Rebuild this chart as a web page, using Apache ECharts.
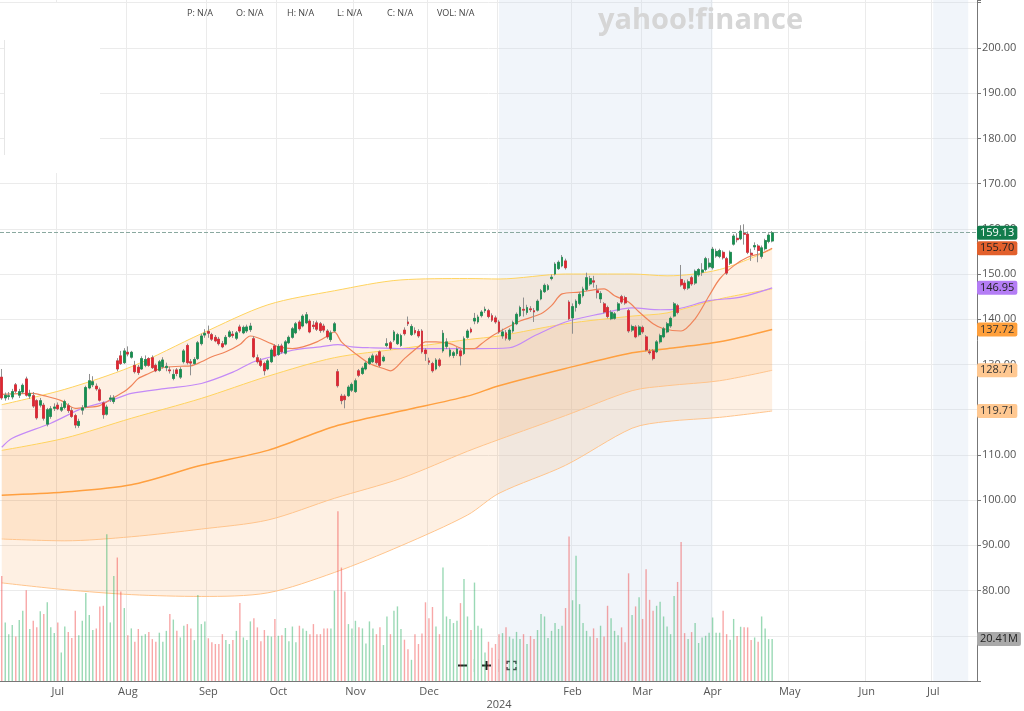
<!DOCTYPE html>
<html>
<head>
<meta charset="utf-8">
<script src="https://cdn.jsdelivr.net/npm/echarts@6.0.0/dist/echarts.min.js"></script>
<style>
  html, body { margin: 0; padding: 0; background: #fff; }
  #chart { width: 1024px; height: 711px; }
</style>
</head>
<body>
<div id="chart"></div>
<script>
// trading calendar (categories)
const firstDay = '2023-06-08';
const lastDay = '2024-07-18';
const holidays = ['2023-06-19','2023-07-04','2023-09-04','2023-11-23','2023-12-25',
  '2024-01-01','2024-01-15','2024-02-19','2024-03-29','2024-05-27','2024-06-19','2024-07-04'];
const monthNames = ['Jan','Feb','Mar','Apr','May','Jun','Jul','Aug','Sep','Oct','Nov','Dec'];

// [open, close, low, high]
const candles = [
  [127.2,122.6,122.2,129.0],[122.6,123.2,122.0,123.8],[122.9,123.1,122.2,123.9],[122.8,124.0,122.3,124.6],
  [125.5,124.1,123.7,125.9],[123.2,124.0,122.6,124.6],[123.9,125.4,123.5,125.8],[126.8,123.2,122.9,127.3],
  [123.0,123.6,122.4,124.4],[123.1,120.8,120.4,123.9],[122.0,118.2,117.8,122.3],[121.0,122.0,120.5,122.6],
  [121.0,118.1,117.6,121.5],[116.8,120.0,116.3,120.4],[118.5,120.2,118.0,120.8],[120.3,120.6,119.7,121.4],
  [121.0,120.2,119.9,121.6],[119.9,120.5,119.5,121.4],[120.5,121.8,120.1,122.2],[120.9,119.8,119.3,121.4],
  [119.8,118.5,118.2,120.5],[118.7,116.6,115.9,119.1],[116.5,117.4,116.0,118.0],[119.9,120.4,118.9,121.0],
  [120.6,124.9,120.3,125.3],[124.8,126.4,124.5,127.9],[125.5,126.2,125.0,127.4],[125.2,124.6,124.2,125.8],
  [124.4,122.1,121.8,124.9],[121.5,118.9,118.0,121.8],[119.0,120.6,118.7,121.1],[122.3,122.6,121.7,123.2],
  [121.8,122.6,121.3,123.2],[130.8,129.0,128.5,131.4],[131.9,130.2,129.9,133.0],[130.4,133.0,130.1,133.6],
  [132.7,132.3,131.8,134.0],[131.6,132.7,131.3,133.0],[129.8,128.4,128.0,130.8],[129.4,128.2,127.7,129.9],
  [129.0,131.3,128.8,131.8],[129.8,131.1,129.4,132.0],[131.3,129.8,129.5,131.6],[131.5,129.3,129.0,132.0],
  [129.8,128.6,128.3,130.2],[128.7,130.6,128.4,131.0],[129.5,131.0,129.1,131.6],[129.3,129.6,128.5,130.4],
  [128.8,128.6,128.0,129.5],[126.9,127.8,126.5,128.9],[128.8,128.0,127.4,129.2],[127.2,128.9,126.8,129.4],
  [130.6,133.0,130.2,133.4],[134.2,130.4,130.0,134.6],[130.6,130.3,127.6,131.2],[130.2,131.1,129.9,131.6],
  [131.3,134.8,131.0,135.2],[134.6,136.3,134.2,136.8],[136.5,136.9,135.9,137.8],[137.3,136.9,135.9,138.6],
  [136.6,135.6,135.2,137.0],[136.0,135.2,134.9,136.5],[135.6,134.6,134.2,136.1],[134.6,133.9,133.6,135.2],
  [134.5,136.0,134.2,136.5],[136.2,137.2,135.9,137.6],[136.7,136.4,135.9,137.4],[135.8,137.0,135.4,137.4],
  [138.3,137.4,137.0,138.8],[137.0,138.2,136.7,138.6],[137.4,138.3,137.0,138.8],[137.7,138.5,137.2,139.2],
  [135.7,131.7,131.4,136.3],[131.5,130.6,130.2,132.2],[130.8,129.8,129.4,131.4],[130.2,128.6,127.6,130.6],
  [129.0,130.8,128.7,131.2],[130.6,133.2,130.3,133.6],[134.1,131.9,131.6,134.5],[132.2,134.0,131.9,134.5],
  [134.1,132.8,132.4,134.6],[132.5,135.0,132.2,135.4],[134.8,136.0,134.5,136.4],[136.0,137.9,135.7,138.3],
  [137.0,139.0,136.7,139.4],[139.4,137.9,137.5,139.8],[138.5,140.7,138.2,141.1],[139.2,141.0,138.9,141.6],
  [139.6,137.2,136.9,140.0],[138.7,138.4,137.8,139.6],[139.2,137.8,137.4,139.7],[139.0,137.5,137.0,139.4],
  [138.5,137.6,137.1,139.0],[137.4,136.1,135.7,137.8],[135.5,137.0,135.0,137.5],[137.4,139.0,137.1,139.4],
  [128.4,125.3,124.9,129.0],[123.0,122.0,121.2,123.5],[123.0,122.2,120.3,123.4],[123.1,125.0,122.8,125.4],
  [124.3,125.6,123.9,126.0],[124.0,126.4,123.7,126.9],[128.6,127.6,127.2,129.0],[128.0,129.2,127.7,129.6],
  [129.0,130.3,128.7,130.7],[130.2,131.3,129.9,131.7],[130.6,131.9,130.3,132.4],[131.9,130.4,130.0,132.3],
  [132.8,129.8,129.4,133.1],[130.8,131.6,130.5,132.0],[134.2,134.6,133.8,135.8],[134.8,133.6,133.2,135.2],
  [135.4,137.2,135.0,137.6],[134.6,136.6,134.3,137.0],[134.2,136.4,133.9,136.8],[137.6,136.8,136.4,138.2],
  [139.4,139.0,138.5,140.6],[136.6,138.4,136.3,138.9],[137.5,137.0,136.6,138.2],[137.3,136.3,135.9,137.8],
  [137.4,132.8,132.4,137.8],[133.2,132.4,130.8,133.6],[130.8,130.5,129.9,131.5],[130.2,128.6,128.2,130.6],
  [129.0,131.0,128.7,131.4],[131.0,129.8,129.4,131.4],[133.0,136.9,132.6,137.6],[134.0,135.0,133.4,135.8],
  [132.0,133.2,131.6,133.7],[132.0,132.6,131.4,133.0],[132.4,133.4,131.9,133.8],[133.0,131.9,129.8,133.4],
  [132.4,135.7,132.1,136.2],[136.0,137.4,135.7,137.8],[137.8,137.2,136.9,138.2],[139.6,140.2,138.9,141.4],
  [139.4,140.5,139.0,141.0],[140.8,141.6,140.4,142.0],[141.9,142.2,141.4,142.8],[141.9,140.6,140.2,142.3],
  [140.8,139.8,139.4,141.3],[140.3,139.4,139.0,140.8],[139.4,137.2,136.8,139.8],[136.3,137.2,135.7,137.9],
  [137.0,135.8,135.3,137.6],[135.6,137.6,135.2,138.0],[137.4,139.3,137.0,139.7],[139.0,141.1,138.7,141.5],
  [140.8,142.6,140.5,143.0],[142.2,142.0,140.6,144.8],[141.5,142.6,141.0,143.2],[142.3,142.1,141.6,142.9],
  [141.9,141.6,139.4,142.5],[142.0,144.0,141.7,144.4],[144.5,146.3,144.2,146.7],[146.1,147.5,145.8,147.9],
  [146.6,147.4,146.3,147.8],[149.0,149.3,148.6,149.9],[150.0,152.2,149.7,152.6],[151.2,152.6,150.9,153.0],
  [151.8,153.7,151.5,154.2],[152.9,151.4,151.0,153.4],[143.8,140.1,139.8,144.2],[140.3,142.8,136.8,143.5],
  [142.6,144.0,141.7,144.4],[143.5,145.5,143.1,146.0],[145.2,146.7,144.8,147.2],[146.6,149.2,146.2,150.3],
  [147.8,149.0,147.4,149.6],[148.5,148.2,147.0,149.6],[146.3,145.9,144.6,147.6],[144.5,145.7,143.6,146.2],
  [143.4,141.6,141.3,143.8],[142.6,140.6,140.2,143.0],[140.1,141.5,139.8,142.0],[140.2,141.2,139.9,141.6],
  [142.0,143.4,141.7,143.8],[145.0,143.8,143.4,145.4],[144.8,143.6,143.2,145.2],[141.9,137.4,137.0,142.3],
  [137.6,138.4,137.2,138.8],[138.3,136.1,135.8,138.7],[136.6,138.3,136.2,138.7],[138.2,137.2,136.8,138.6],
  [136.1,133.2,132.9,136.5],[132.8,132.6,132.2,133.4],[133.0,131.3,130.9,133.4],[132.8,135.0,132.5,135.4],
  [135.0,136.4,134.6,136.8],[136.1,137.9,135.8,138.3],[137.2,139.0,136.9,139.4],[138.5,140.2,138.1,140.6],
  [140.7,143.4,140.4,143.8],[143.0,141.5,141.1,143.4],[148.8,147.6,147.2,152.0],[148.0,146.8,146.4,148.6],
  [146.9,148.3,146.5,148.8],[149.2,147.8,147.4,149.6],[148.0,150.6,147.6,151.0],[149.8,151.0,149.4,151.3],
  [150.4,150.9,149.6,152.4],[151.0,153.4,150.6,153.8],[151.6,152.4,151.2,153.5],[151.4,155.5,151.0,156.0],
  [154.0,155.0,153.6,155.6],[153.9,155.2,153.5,155.6],[154.8,153.6,153.2,155.2],[153.4,150.2,149.8,153.8],
  [152.4,154.8,152.0,155.2],[156.6,158.4,156.3,158.8],[157.9,157.6,157.0,159.0],[157.8,159.5,157.5,160.8],
  [159.0,158.8,156.5,161.0],[158.8,154.8,154.4,159.4],[154.6,154.3,152.9,155.6],[156.0,156.3,155.3,157.0],
  [156.2,155.2,152.6,156.6],[153.9,155.8,153.4,156.3],[155.6,157.4,155.2,157.8],[157.2,158.6,156.8,159.0],
  [157.3,159.13,157.0,159.5]
];

// volume in millions
const volumes = [
  51.1,28.5,22.8,27.2,21.6,29.7,34.2,44.2,25.3,29.3,26.1,33.9,32.6,38.3,26.1,23.3,28.5,13.9,26.5,23.9,
  20.9,34.2,22.3,29.3,42.8,32.1,24.8,25.6,36.3,36.6,71.4,28.5,51.1,60.1,43.6,35.5,22.3,25.6,19.1,25.3,
  22.0,22.8,23.9,20.4,19.1,23.5,19.1,24.4,32.6,29.9,24.4,21.2,26.9,27.7,25.6,19.9,41.8,27.7,29.0,20.8,
  18.8,18.0,18.0,22.8,19.9,18.0,19.9,24.4,37.9,21.2,19.9,29.0,30.5,26.1,19.3,24.8,22.0,21.6,30.2,22.0,
  22.3,25.8,19.3,26.5,18.8,26.9,25.6,24.4,22.8,27.7,22.8,22.8,25.6,25.6,25.6,43.9,82.6,55.2,43.4,27.7,
  25.6,29.3,26.1,25.6,18.3,29.0,25.6,22.8,26.1,17.5,31.4,22.8,34.2,36.3,25.3,20.1,15.5,10.3,22.8,18.0,
  23.1,38.3,30.5,36.0,26.5,22.8,55.2,31.4,30.2,28.2,29.3,37.9,49.6,31.4,24.8,47.9,26.9,25.6,13.9,19.1,
  16.2,18.0,22.8,23.3,26.1,21.6,20.6,23.9,20.4,22.8,18.0,21.9,20.4,24.8,32.6,31.4,20.9,24.4,28.2,25.3,
  26.9,35.5,70.3,39.3,60.9,37.4,28.2,24.4,21.6,25.6,20.9,26.9,21.6,36.6,30.5,24.4,22.3,26.1,18.8,52.4,
  32.1,36.3,40.7,30.2,54.4,39.5,34.2,36.6,38.6,31.4,26.5,22.8,41.4,48.2,67.7,23.3,20.4,23.8,28.2,18.5,
  21.2,22.0,23.5,30.9,23.5,23.5,34.2,22.8,20.1,30.2,21.9,26.4,26.1,26.1,19.9,21.2,19.1,31.4,25.6,20.4,
  20.41
];

// moving averages: [trading-day index, price]
const maShort = [
  [0,123.4],[9,123.6],[12,123.1],[17,122.0],[21,120.3],[24,120.5],[28,120.9],[32,122.7],[35,124.0],
  [37,125.3],[39,126.9],[42,128.0],[46,129.3],[51,129.6],[54,129.7],[57,130.6],[60,131.7],[64,132.8],
  [68,134.4],[71,136.3],[77,134.6],[79,133.9],[83,133.5],[86,133.9],[90,135.0],[93,136.3],[95,137.2],
  [97,135.0],[101,132.4],[105,130.2],[109,129.1],[111,128.6],[115,131.3],[119,133.9],[121,135.0],
  [124,135.0],[128,134.6],[132,133.5],[135,133.5],[137,134.6],[140,136.3],[142,137.2],[148,139.6],
  [154,141.2],[157,143.0],[160,145.6],[165,146.0],[169,146.5],[172,146.7],[175,145.2],[179,143.8],
  [182,141.6],[186,139.0],[189,137.9],[194,137.4],[198,140.1],[202,145.2],[205,148.9],[209,151.8],
  [213,153.7],[217,154.6],[220,155.70]
];
const maMid = [
  [0,111.7],[3,113.7],[14,117.0],[23,120.3],[31,122.0],[37,123.6],[47,124.7],[57,125.8],[66,128.3],
  [72,130.6],[77,131.7],[81,132.8],[86,133.5],[91,133.9],[96,134.4],[100,133.9],[105,133.7],[115,133.5],
  [124,133.5],[134,133.5],[145,133.7],[152,136.3],[161,139.4],[171,141.2],[180,142.5],[188,142.1],
  [193,142.3],[202,144.1],[211,144.9],[220,146.95]
];

// long average and its two envelopes, sampled at bandIdx
const bandIdx    = [0, 18, 37, 57, 76, 95, 114, 133, 142, 161, 180, 190, 205, 220];
const outerUpper = [121.1,124.5,129.5,136.8,143.2,146.3,148.7,149.0,148.9,150.0,150.0,149.6,151.0,155.5];
const innerUpper = [111.0,113.7,118.1,122.5,127.4,131.5,133.5,135.5,136.3,139.0,140.7,141.4,144.5,146.7];
const maLong     = [101.1,101.8,103.4,107.7,111.0,116.3,119.7,123.0,125.3,129.1,132.6,133.5,135.0,137.72];
const innerLower = [91.4,91.0,91.9,93.6,95.6,100.4,104.8,110.8,113.4,118.7,124.2,125.3,126.4,128.71];
const outerLower = [81.7,80.2,79.1,78.7,79.5,84.0,89.9,96.7,101.5,107.7,115.9,117.4,118.3,119.71];

// shaded periods
const shaded = [['2024-01-02','2024-04-01'],['2024-07-01','2024-07-16']];

const headerItems = ['P: N/A','O: N/A','H: N/A','L: N/A','C: N/A','VOL: N/A'];

function pad(n){ return n < 10 ? '0' + n : '' + n; }
function tradingDays(from, to){
  const out = [];
  let d = new Date(from + 'T00:00:00Z');
  const end = new Date(to + 'T00:00:00Z');
  while (d <= end) {
    const s = d.getUTCFullYear() + '-' + pad(d.getUTCMonth() + 1) + '-' + pad(d.getUTCDate());
    const wd = d.getUTCDay();
    if (wd !== 0 && wd !== 6 && holidays.indexOf(s) < 0) out.push(s);
    d = new Date(d.getTime() + 86400000);
  }
  return out;
}

const dates = tradingDays(firstDay, lastDay);
const monthStart = new Set();
dates.forEach((s, i) => {
  if (i > 0 && s.slice(5, 7) !== dates[i - 1].slice(5, 7)) monthStart.add(i);
});

const GREEN = '#14904f', RED = '#e3242f', WICK = '#8f8f8f';
const FONT = 'Open Sans';

function pairs(vals){ return bandIdx.map((x, k) => [x, vals[k]]); }
function diff(a, b){ return bandIdx.map((x, k) => [x, +(a[k] - b[k]).toFixed(2)]); }
function last(arr){ const v = arr[arr.length - 1]; return Array.isArray(v) ? v[1] : v; }

function tag(value, bg, color, text){
  return {
    yAxis: value,
    lineStyle: { color: 'rgba(0,0,0,0)', width: 1 },
    label: {
      show: true, position: 'end', distance: 0,
      formatter: text || value.toFixed(2),
      backgroundColor: bg, color: color, opacity: 1,
      padding: [2, 3, 1, 3], borderRadius: 2,
      fontSize: 11, fontFamily: FONT
    }
  };
}

const lastClose = candles[candles.length - 1][1];
const closeTag = tag(lastClose, '#127c4c', '#fff');
closeTag.lineStyle = { type: 'dashed', color: '#8aa9a0', width: 1 };

const myChart = echarts.init(document.getElementById('chart'));
const option = {
  animation: false,
  grid: { left: 0, right: 47, top: 0, bottom: 29 },
  xAxis: {
    type: 'category',
    data: dates,
    boundaryGap: true,
    axisLine: { lineStyle: { color: '#777' } },
    axisTick: { interval: i => monthStart.has(i), length: 4, alignWithLabel: true, lineStyle: { color: '#777' } },
    axisLabel: {
      interval: i => monthStart.has(i),
      formatter: v => {
        const m = +v.slice(5, 7) - 1;
        return m === 0 ? '\n' + v.slice(0, 4) : monthNames[m];
      },
      color: '#555', fontSize: 11, fontFamily: FONT, margin: 4, lineHeight: 13
    },
    splitLine: { show: true, interval: i => monthStart.has(i), lineStyle: { color: '#ebebeb' } }
  },
  yAxis: [{
    type: 'value', position: 'right',
    min: 60, max: 210.6, interval: 10,
    axisLine: { show: true, lineStyle: { color: '#777' } },
    axisTick: { show: true, length: 4, lineStyle: { color: '#777' } },
    axisLabel: {
      margin: 5, color: '#555', fontSize: 11, fontFamily: FONT,
      formatter: v => (v >= 80 && v <= 200 && Math.abs(v % 10) < 1e-6) ? v.toFixed(2) : ''
    },
    splitLine: { lineStyle: { color: '#ebebeb' }, showMaxLine: false }
  }, {
    type: 'value', min: 0, max: 331.4, show: false
  }],
  series: [
    {
      name: 'shade', type: 'line', data: dates.map(() => null), z: 1, silent: true,
      markArea: {
        silent: true,
        itemStyle: { color: 'rgba(200,215,235,0.25)' },
        data: shaded.map(p => [{ xAxis: p[0] }, { xAxis: p[1] }])
      }
    },
    {
      type: 'line', stack: 'outer', data: pairs(outerLower), smooth: 0.3, showSymbol: false, silent: true,
      lineStyle: { color: '#ffc48c', width: 1 }, z: 2,
      markLine: { symbol: 'none', silent: true, data: [tag(last(outerLower), '#ffc891', '#333')] }
    },
    {
      type: 'line', stack: 'outer', data: diff(outerUpper, outerLower), smooth: 0.3, showSymbol: false, silent: true,
      lineStyle: { color: '#ffd35e', width: 1 }, areaStyle: { color: 'rgba(250,150,60,0.2)' }, z: 2
    },
    {
      type: 'line', stack: 'inner', data: pairs(innerLower), smooth: 0.3, showSymbol: false, silent: true,
      lineStyle: { color: '#ffc48c', width: 1 }, z: 2,
      markLine: { symbol: 'none', silent: true, data: [tag(last(innerLower), '#ffc891', '#333')] }
    },
    {
      type: 'line', stack: 'inner', data: diff(innerUpper, innerLower), smooth: 0.3, showSymbol: false, silent: true,
      lineStyle: { color: '#ffd35e', width: 1 }, areaStyle: { color: 'rgba(250,150,60,0.2)' }, z: 2
    },
    {
      type: 'line', data: pairs(maLong), smooth: 0.3, showSymbol: false, silent: true,
      lineStyle: { color: '#ffa040', width: 1.5 }, z: 3,
      markLine: { symbol: 'none', silent: true, data: [tag(last(maLong), '#ffa03c', '#333')] }
    },
    {
      type: 'bar', yAxisIndex: 1, barWidth: 1.4, silent: true, z: 3,
      data: volumes.map((v, i) => ({
        value: v,
        itemStyle: { color: candles[i][1] >= candles[i][0] ? 'rgba(30,170,90,0.45)' : 'rgba(240,60,60,0.45)' }
      })),
      markLine: { symbol: 'none', silent: true, data: [tag(last(volumes), '#a9a9a9', '#222', last(volumes).toFixed(2) + 'M')] }
    },
    {
      type: 'line', data: maMid, smooth: 0.3, showSymbol: false, silent: true,
      lineStyle: { color: '#c38af7', width: 1.2 }, z: 4,
      markLine: { symbol: 'none', silent: true, data: [tag(last(maMid), '#b47df5', '#222')] }
    },
    {
      type: 'line', data: maShort, smooth: 0.3, showSymbol: false, silent: true,
      lineStyle: { color: '#f0845a', width: 1.2 }, z: 4,
      markLine: { symbol: 'none', silent: true, data: [tag(last(maShort), '#e2602c', '#222')] }
    },
    {
      type: 'candlestick', data: candles, barWidth: 2.4, silent: true, z: 6,
      itemStyle: { color: WICK, color0: WICK, borderColor: WICK, borderColor0: WICK, borderWidth: 1 }
    },
    {
      type: 'candlestick', barWidth: 2.4, silent: true, z: 7,
      data: candles.map(c => [c[0], c[1], Math.min(c[0], c[1]), Math.max(c[0], c[1])]),
      itemStyle: { color: GREEN, color0: RED, borderColor: GREEN, borderColor0: RED, borderWidth: 0.6 },
      markLine: { symbol: 'none', silent: true, data: [closeTag] }
    }
  ],
  graphic: [
    { type: 'rect', shape: { x: 4, y: 3, width: 96, height: 170 }, style: { fill: '#fff' }, z: 50 },
    { type: 'line', shape: { x1: 4.5, y1: 40, x2: 4.5, y2: 155 }, style: { stroke: '#e6e6e6', lineWidth: 1 }, z: 51 },
    {
      type: 'text', left: 598, top: 6, z: 50,
      style: { text: 'yahoo!finance', fill: '#d6d6d6', font: 'bold 29px "Open Sans"' }
    },
    ...headerItems.map((t, k) => ({
      type: 'text', x: [187, 236, 287, 337, 387, 437][k], y: 13, z: 50,
      style: { text: t, fill: '#444', font: '9px "Open Sans"', verticalAlign: 'middle' }
    })),
    {
      type: 'group', x: 450, y: 657, z: 50,
      children: [
        { type: 'rect', shape: { x: 0, y: 0, width: 72, height: 17 }, style: { fill: 'rgba(255,255,255,0.9)' } },
        { type: 'line', shape: { x1: 23.5, y1: 2, x2: 23.5, y2: 15 }, style: { stroke: '#eee' } },
        { type: 'line', shape: { x1: 48.5, y1: 2, x2: 48.5, y2: 15 }, style: { stroke: '#eee' } },
        { type: 'rect', shape: { x: 8, y: 7.5, width: 9, height: 2 }, style: { fill: '#222' } },
        { type: 'rect', shape: { x: 32, y: 7.5, width: 9, height: 2 }, style: { fill: '#222' } },
        { type: 'rect', shape: { x: 35.5, y: 4, width: 2, height: 9 }, style: { fill: '#222' } },
        { type: 'polyline', shape: { points: [[57, 7], [57, 4.5], [60, 4.5]] }, style: { stroke: '#222', lineWidth: 1.5, fill: null } },
        { type: 'polyline', shape: { points: [[63, 4.5], [66, 4.5], [66, 7]] }, style: { stroke: '#222', lineWidth: 1.5, fill: null } },
        { type: 'polyline', shape: { points: [[57, 10], [57, 12.5], [60, 12.5]] }, style: { stroke: '#222', lineWidth: 1.5, fill: null } },
        { type: 'polyline', shape: { points: [[63, 12.5], [66, 12.5], [66, 10]] }, style: { stroke: '#222', lineWidth: 1.5, fill: null } }
      ]
    }
  ]
};
myChart.setOption(option);
window.addEventListener('resize', function () {
  myChart.resize();
});
</script>
</body>
</html>
